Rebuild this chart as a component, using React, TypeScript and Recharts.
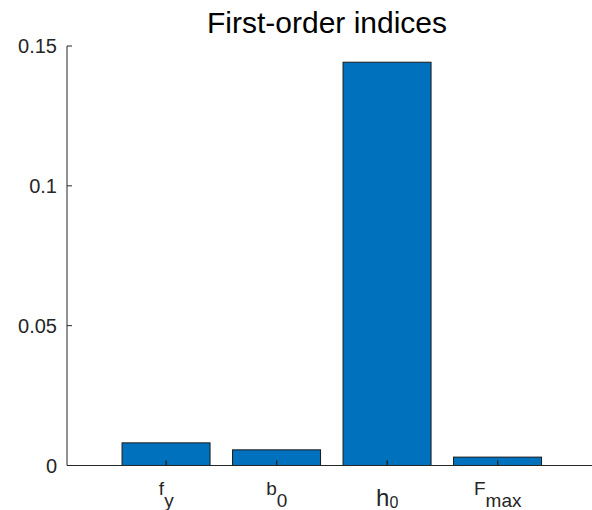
import { Bar, BarChart, XAxis, YAxis } from "recharts";

// parameter names (main letter + subscript) and first-order indices
const mains = ["f", "b", "h", "F"];
const subs = ["y", "0", "0", "max"];
const categories = ["fy", "b0", "h0", "Fmax"];
const values = [0.0081, 0.0056, 0.1442, 0.003];
const yTicks = [0, 0.05, 0.1, 0.15];

const data = categories.map((name, i) => ({ name, value: values[i] }));

const INK = "#262626";
const FONT = "Arial, 'Liberation Sans', Helvetica, sans-serif";

function XTick(props: any) {
  const { x, y, payload } = props;
  const i = categories.indexOf(payload.value);
  if (i < 0) return null;
  const big = categories[i] === "h0";
  return (
    <text
      x={x}
      y={y + (big ? 40 : 29)}
      textAnchor="middle"
      fill={INK}
      fontFamily={FONT}
      fontSize={big ? 24 : 19}
    >
      {mains[i]}
      <tspan dy={big ? 2 : 12} fontSize={big ? 16 : 19}>
        {subs[i]}
      </tspan>
    </text>
  );
}

// bar with the x tick mark drawn over it, as matlab keeps axes on top
function BarWithTick(props: any) {
  const { x, y, width, height, fill } = props;
  const cx = x + width / 2;
  const base = y + height;
  return (
    <g>
      <rect x={x} y={y} width={width} height={height} fill={fill} stroke="#1a1a1a" strokeWidth={1} />
      <line x1={cx} x2={cx} y1={base} y2={base - 5} stroke={INK} strokeWidth={1} />
    </g>
  );
}

export default function App() {
  return (
    <div
      style={{
        position: "absolute",
        left: 0,
        top: 0,
        width: 592,
        height: 510,
        overflow: "hidden",
        background: "#fff",
      }}
    >
      <div
        style={{
          position: "absolute",
          left: 0,
          width: 654,
          top: 5,
          textAlign: "center",
          fontFamily: FONT,
          fontSize: 30,
          color: "#000",
          lineHeight: "36px",
        }}
      >
        First-order indices
      </div>
      <BarChart
        width={597}
        height={510}
        data={data}
        margin={{ top: 46, right: 0, bottom: 0, left: 0 }}
        barCategoryGap="10%"
      >
        <XAxis
          dataKey="name"
          height={44.5}
          padding={{ left: 44, right: 44 }}
          tickSize={-5}
          tickMargin={5}
          tick={<XTick />}
          interval={0}
          axisLine={{ stroke: INK }}
          tickLine={{ stroke: INK }}
        />
        <XAxis
          xAxisId="top"
          orientation="top"
          dataKey="name"
          height={0}
          padding={{ left: 44, right: 44 }}
          tickSize={-5}
          tick={() => <g />}
          interval={0}
          axisLine={{ stroke: INK }}
          tickLine={{ stroke: INK }}
        />
        <YAxis
          width={67}
          domain={[0, 0.15]}
          ticks={yTicks}
          interval={0}
          tickSize={-5}
          tickMargin={15}
          axisLine={{ stroke: INK }}
          tickLine={{ stroke: INK }}
          tick={{ fill: INK, fontSize: 20, fontFamily: FONT }}
        />
        <Bar
          dataKey="value"
          fill="#0072BD"
          shape={<BarWithTick />}
          isAnimationActive={false}
        />
      </BarChart>
    </div>
  );
}
